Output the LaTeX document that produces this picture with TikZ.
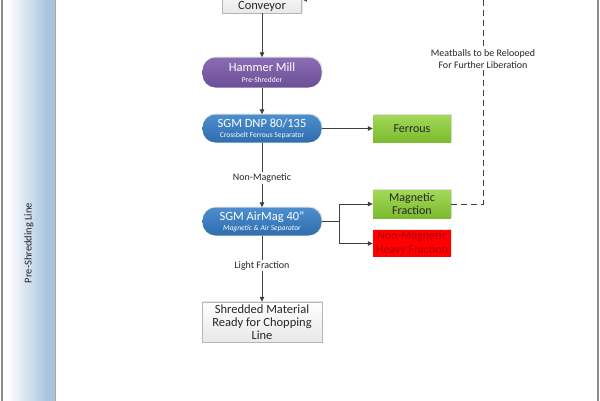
\documentclass[tikz,border=0pt]{standalone}
\usepackage{fontspec}
\setmainfont{Carlito}
\usetikzlibrary{arrows.meta,shadows}
\definecolor{lanebl}{HTML}{A9C4DE}
\definecolor{framegray}{HTML}{8C8C8C}
\definecolor{arrowgray}{HTML}{404040}
\definecolor{purpTop}{HTML}{8A6CB4}
\definecolor{purpBot}{HTML}{6B4E97}
\definecolor{blueTop}{HTML}{4D8ECF}
\definecolor{blueBot}{HTML}{2F6DAC}
\definecolor{grnTop}{HTML}{A2D858}
\definecolor{grnBot}{HTML}{7DBB30}
\definecolor{boxBorder}{HTML}{B5B5B5}
\definecolor{darkred}{HTML}{B00000}
\tikzset{
  flowarrow/.style={draw=arrowgray, line width=0.8pt, -{Triangle[length=5pt,width=4.5pt]}},
  flowline/.style={draw=arrowgray, line width=0.8pt},
  loopline/.style={draw=arrowgray, line width=0.8pt, dash pattern=on 6pt off 4pt},
  pill/.style={rounded corners=13pt, minimum width=119pt, minimum height=28pt, inner sep=1pt,
    text=white, align=center, top color=#1Top, bottom color=#1Bot, draw=none,
    drop shadow={opacity=0.25, shadow xshift=1pt, shadow yshift=1pt}},
  greenbox/.style={minimum width=78pt, minimum height=27pt, inner sep=1pt, align=center,
    top color=grnTop, bottom color=grnBot, draw=none, text=black!85,
    drop shadow={opacity=0.25, shadow xshift=1pt, shadow yshift=1pt},
    font=\fontsize{12}{13.5}\selectfont},
  redbox/.style={minimum width=78pt, minimum height=27pt, inner sep=1pt, align=center,
    fill=red, draw=none, text=darkred,
    drop shadow={opacity=0.25, shadow xshift=1pt, shadow yshift=1pt},
    font=\fontsize{12}{13.5}\selectfont},
  whitebox/.style={minimum width=120pt, inner sep=2pt, align=center,
    top color=white, bottom color=black!9, draw=boxBorder, line width=0.5pt, text=black!85,
    drop shadow={opacity=0.2, shadow xshift=1pt, shadow yshift=1pt},
    font=\fontsize{12.5}{13}\selectfont},
  edgelabel/.style={fill=white, inner sep=1.5pt, text=black!85, font=\fontsize{10}{11.5}\selectfont, align=center}
}
\begin{document}
\begin{tikzpicture}[x=1pt,y=-1pt]
\useasboundingbox (0,0) rectangle (600,400);
\fill[white] (0,0) rectangle (600,400);
% lane band (gradient strips)
\foreach \i in {0,...,25}{
  \pgfmathtruncatemacro{\pct}{min(100,max(0,5*(\i-2)))}
  \fill[lanebl!\pct!white] ({3+2*\i},-5) rectangle ({5.3+2*\i},405);
}
\draw[draw=black!35, line width=0.6pt] (55,-5) -- (55,405);
\draw[draw=framegray, line width=1.6pt] (2,-5) -- (2,405);
\draw[draw=framegray, line width=1.6pt] (598,-5) -- (598,405);
\node[rotate=90, text=black!85, font=\fontsize{10.5}{12}\selectfont] (lane) at (29,243) {Pre-Shredding Line};

% nodes
\node[whitebox, minimum width=79pt, anchor=south, text height=22pt, text depth=1pt] (conv) at (262,13) {Conveyor};
\node[pill=purp, minimum height=30pt] (ham) at (262,72.5) {{\fontsize{12.5}{13}\selectfont Hammer Mill}\\[-1.5pt]{\fontsize{7.5}{8}\selectfont Pre-Shredder}};
\node[pill=blue] (dnp) at (262,128.5) {{\fontsize{12.5}{13}\selectfont SGM DNP 80/135}\\[-2pt]{\fontsize{7.5}{8}\selectfont Crossbelt Ferrous Separator}};
\node[pill=blue] (air) at (262,221.5) {{\fontsize{12.5}{13}\selectfont SGM AirMag 40"}\\[-2pt]{\fontsize{7.5}{8}\selectfont\itshape Magnetic \& Air Separator}};
\node[greenbox] (fer) at (412,128.5) {Ferrous};
\node[greenbox, minimum height=28pt] (mag) at (412,204) {Magnetic\\Fraction};
\node[redbox] (nmh) at (412,243.5) {Non-Magnetic\\Heavy Fraction};
\node[whitebox, minimum height=40pt] (shr) at (262,322) {Shredded Material\\Ready for Chopping\\Line};

% connectors
\draw[flowarrow] (conv) -- (ham);
\draw[flowarrow] (ham) -- (dnp);
\draw[flowarrow] (dnp) -- (fer);
\draw[flowarrow] (dnp) -- node[edgelabel, pos=0.55] (lnm) {Non-Magnetic} (air);
\draw[flowarrow] (air) -- node[edgelabel, pos=0.45] (llf) {Light Fraction} (shr);
\coordinate (br) at (339,221.5);
\draw[flowline] (air.east) -- (br);
\draw[flowarrow] (br) |- (mag.west);
\draw[flowarrow] (br) |- (nmh.west);
\coordinate (lp1) at (483,204);
\coordinate (lp2) at (483,-0.5);
\draw[loopline] (mag.east) -- (lp1) -- (lp2);
\draw[loopline, -{Triangle[length=5pt,width=4.5pt]}] (lp2) -- (conv.east);
\node[edgelabel] (lbl) at (483,59) {Meatballs to be Relooped\\For Further Liberation};
\end{tikzpicture}
\end{document}
